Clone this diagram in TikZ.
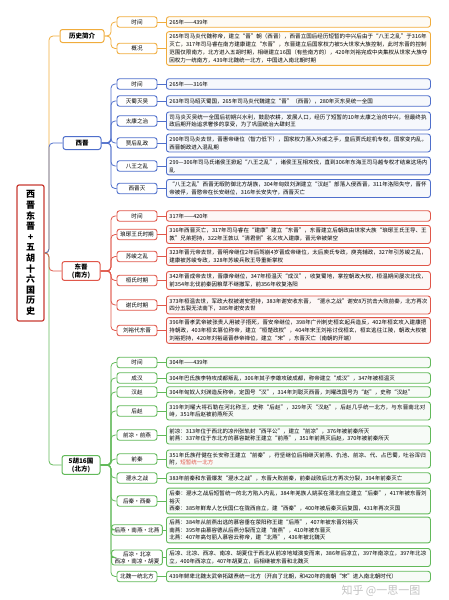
\documentclass[tikz,border=0pt]{standalone}
\usepackage{fontspec}
\setmainfont{Noto Sans CJK SC}
\XeTeXlinebreaklocale "zh"
\XeTeXlinebreakskip=0pt plus 1pt
\usetikzlibrary{calc}
\definecolor{cOr}{HTML}{F0AC3C}
\definecolor{cBl}{HTML}{4F6FCB}
\definecolor{cRd}{HTML}{E0574A}
\definecolor{cGr}{HTML}{62B95A}
\definecolor{cRoot}{HTML}{C83A32}
\tikzset{
  lab/.style={draw, rounded corners=2.5pt, line width=0.9pt, fill=white, minimum width=40pt, minimum height=10.5pt, inner xsep=3pt, inner ysep=1.5pt, font=\fontsize{5.6}{6.8}\selectfont, align=center},
  txt/.style={draw, rounded corners=2.5pt, line width=0.9pt, anchor=west, text width=258pt, align=left, inner xsep=3pt, inner ysep=2.5pt, minimum height=10.5pt, font=\fontsize{5.5}{7.8}\selectfont},
  cat/.style={draw, rounded corners=2.5pt, line width=1pt, fill=white, minimum width=38pt, minimum height=13pt, inner xsep=2pt, inner ysep=2pt, font=\fontsize{6.5}{8}\selectfont\bfseries, align=center},
  rootbox/.style={draw=cRoot, line width=1.2pt, rounded corners=2pt, fill=white, minimum width=27pt, minimum height=136pt, inner sep=1pt, font=\fontsize{9}{10.6}\selectfont\bfseries, align=center},
  conn/.style={line width=0.8pt, rounded corners=4pt},
}
\newcommand\mmrow[6]{% #1 category, #2 id, #3 y, #4 label, #5 text, #6 colour
  \node[lab,draw=#6] (l#2) at (137,#3) {#4};
  \node[txt,draw=#6,fill=#6!5] (t#2) at (166,#3) {#5};
  \draw[conn,#6] (l#2.east) -- (t#2.west);
  \draw[conn,#6] (#1.east) -- (#1.east -| bx) |- (l#2.west);
}
\begin{document}
\begin{tikzpicture}[x=1pt,y=-1pt]
\useasboundingbox (0,0) rectangle (449,600);
\coordinate (bx) at (111,0);
\coordinate (rx) at (49,0);
\node[rootbox] (root) at (30.5,253) {西\\晋\\东\\晋\\+\\五\\胡\\十\\六\\国\\历\\史};
\node[cat,draw=cOr,minimum width=44pt] (cA) at (82,36) {历史简介};
\node[cat,draw=cBl] (cB) at (82,143) {西晋};
\node[cat,draw=cRd,minimum height=17pt] (cC) at (81,271) {东晋\\(南方)};
\node[cat,draw=cGr,minimum height=17pt] (cD) at (81,465) {5胡16国\\(北方)};
\draw[conn,cOr] (root.east) -- (root.east -| rx) |- (cA.west);
\draw[conn,cBl] (root.east) -- (root.east -| rx) |- (cB.west);
\draw[conn,cGr] (root.east) -- (root.east -| rx) |- (cD.west);
\draw[conn,cRd] (root.east) -- (root.east -| rx) |- (cC.west);

% 历史简介
\mmrow{cA}{a1}{22}{时间}{265年——439年}{cOr}
\mmrow{cA}{a2}{48.5}{概况}{265年司马炎代魏称帝，建立“晋”朝（西晋），西晋立国后经历短暂的中兴后由于“八王之乱”于316年灭亡，317年司马睿在南方建康建立“东晋”，东晋建立后国家权力被5大世家大族控制，此时东晋的控制范围仅限南方，北方进入五胡时期，相继建立16国（有些南方的），420年刘裕完成中央集权从世家大族夺回权力一统南方，439年北魏统一北方，中国进入南北朝时期}{cOr}

% 西晋
\mmrow{cB}{b1}{84}{时间}{265年——316年}{cBl}
\mmrow{cB}{b2}{101}{灭蜀灭吴}{263年司马昭灭蜀国，265年司马炎代魏建立“晋”（西晋），280年灭东吴统一全国}{cBl}
\mmrow{cB}{b3}{121}{太康之治}{司马炎灭吴统一全国后初期兴水利，鼓励农耕，发展人口，经历了短暂的10年太康之治的中兴，但最终执政后期开始追求奢侈的享受，为了巩固统治大肆封王}{cBl}
\mmrow{cB}{b4}{143}{贾后乱政}{290年司马炎去世，晋惠帝继位（智力低下），国家权力落入外戚之手，皇后贾氏趁机专权，国家变内乱，西晋朝政进入混乱期}{cBl}
\mmrow{cB}{b5}{166}{八王之乱}{299—306年司马氏诸侯王掀起“八王之乱”，诸侯王互相攻伐，直到306年东海王司马越专权才结束这场内乱}{cBl}
\mmrow{cB}{b6}{188.5}{西晋灭}{“八王之乱”西晋无暇防御北方胡族，304年匈奴刘渊建立“汉赵”部落入侵西晋，311年洛阳失守，晋怀帝被俘，晋愍帝在长安继位，316年长安失守，西晋灭亡}{cBl}

% 东晋
\mmrow{cC}{c1}{216}{时间}{317年——420年}{cRd}
\mmrow{cC}{c2}{234.5}{琅琊王氏时期}{316年西晋灭亡，317年司马睿在“建康”建立“东晋”，东晋建立后朝政由世家大族“琅琊王氏王导、王敦”兄弟把持，322年王敦以“清君侧”名义攻入建康，晋元帝被架空}{cRd}
\mmrow{cC}{c3}{256.5}{苏峻之乱}{323年晋元帝去世，晋明帝继位2年后驾崩4岁晋成帝继位，太后庾氏专政，庾亮辅政，327年引苏峻之乱，建康被苏峻专政，328年苏峻兵败王导重新掌权}{cRd}
\mmrow{cC}{c4}{280.5}{桓氏时期}{342年晋成帝去世，晋康帝继位，347年桓温灭“成汉”，收复蜀地，掌控朝政大权，桓温期间屡次北伐，前354年北伐前秦因粮草不继撤军，前356年收复洛阳}{cRd}
\mmrow{cC}{c5}{305}{谢氏时期}{373年桓温去世，军政大权被谢安把持，383年谢安收东晋，“淝水之战”谢安8万抗击大败前秦，北方再次四分五裂无法南下，385年谢安去世}{cRd}
\mmrow{cC}{c6}{330.5}{刘裕代东晋}{396年晋孝武帝被张贵人用被子捂死，晋安帝继位，398年广州刺史桓玄起兵造反，402年桓玄攻入建康把持朝政，403年桓玄篡位称帝，建立“桓楚政权”，404年宋王刘裕讨伐桓玄，桓玄逃往江陵，朝政大权被刘裕把持，420年刘裕逼晋恭帝禅位，建立“宋”，东晋灭亡（南朝的开端）}{cRd}

% 五胡十六国
\mmrow{cD}{d1}{362.5}{时间}{304年——439年}{cGr}
\mmrow{cD}{d2}{378}{成汉}{304年巴氐族李特攻成都叛乱，306年其子李雄攻破成都，称帝建立“成汉”，347年被桓温灭}{cGr}
\mmrow{cD}{d3}{392}{汉赵}{304年匈奴人刘渊造反称帝，定国号“汉”，314年刘聪灭西晋，刘曜改国号为“赵”，史称“汉赵”}{cGr}
\mmrow{cD}{d4}{411}{后赵}{319年刘曜大将石勒在河北称王，史称“后赵”，329年灭“汉赵”，后赵几乎统一北方，与东晋南北对峙，351年后赵被前燕所灭}{cGr}
\mmrow{cD}{d5}{435}{前凉·前燕}{前凉：313年位于西北的凉州张轨封“西平公”，建立“前凉”，376年被前秦所灭\\前燕：337年位于东北方的慕容皝称王建立“前燕”，351年前燕灭后赵，370年被前秦所灭}{cGr}
\mmrow{cD}{d6}{459}{前秦}{351年氐族苻健在长安称王建立“前秦”，苻坚继位后相继灭前燕、仇池、前凉、代、占巴蜀，吐谷浑归附，\textcolor{cRd}{短暂统一北方}}{cGr}
\mmrow{cD}{d7}{478}{淝水之战}{383年前秦和东晋爆发“淝水之战”，东晋大败前秦，前秦战败后北方再次分裂，394年前秦灭亡}{cGr}
\mmrow{cD}{d8}{501}{后秦·西秦}{后秦：淝水之战后短暂统一的北方陷入内乱，384年羌族人姚苌在渭北自立建立“后秦”，417年被东晋刘裕灭\\西秦：385年鲜卑人乞伏国仁在陇西自立，建“西秦”，400年被后秦灭后复国，431年再次灭国}{cGr}
\mmrow{cD}{d9}{530}{后燕·南燕·北燕}{后燕：384年从前燕出逃的慕容垂在荥阳称王建“后燕”，407年被东晋刘裕灭\\南燕：395年由慕容德从后燕分裂而立建“南燕”，410年被东晋灭\\北燕：407年高句丽人慕容云称帝，建“北燕”，436年被北魏灭}{cGr}
\mmrow{cD}{d10}{557.5}{后凉·北凉\\西凉·南凉·胡夏}{后凉、北凉、西凉、南凉、胡夏位于西北从前凉地域演变而来，386年后凉立，397年南凉立，397年北凉立，400年西凉立，407年胡夏立，后相继被东晋和北魏灭}{cGr}
\mmrow{cD}{d11}{576.5}{北魏一统北方}{439年鲜卑北魏太武帝拓跋焘统一北方（开启了北朝，和420年的南朝“宋”进入南北朝时代）}{cGr}

\node[text=gray!60, opacity=0.8, font=\fontsize{11}{12}\selectfont, anchor=west] (wm) at (338,591) {知乎 @一思一图};
\end{tikzpicture}
\end{document}
